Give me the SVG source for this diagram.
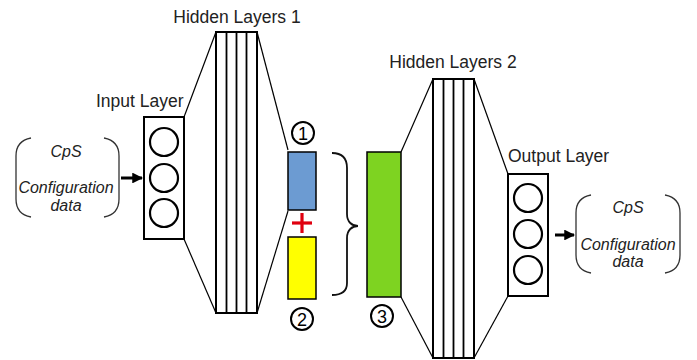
<svg xmlns="http://www.w3.org/2000/svg" width="697" height="360" viewBox="0 0 697 360">
<defs>
<style>
.lbl{font-family:"Liberation Sans",Arial,sans-serif;font-size:17.5px;fill:#222}
.it{font-family:"Liberation Sans",Arial,sans-serif;font-size:16px;font-style:italic;fill:#222;text-anchor:middle}
.num{font-family:"Liberation Sans",Arial,sans-serif;font-size:18px;fill:#000;text-anchor:middle}
.box{fill:#fff;stroke:#000;stroke-width:2}
.neu{fill:#fff;stroke:#000;stroke-width:2.2}
.ln{fill:none;stroke:#000;stroke-width:1.2}
.sl{stroke:#000;stroke-width:1.8}
.par{fill:none;stroke:#333;stroke-width:1.3}
.brc{fill:none;stroke:#111;stroke-width:1.8}
.tag{fill:#fff;stroke:#000;stroke-width:2}
</style>
<marker id="ah" viewBox="0 0 10 10" refX="9" refY="5" markerWidth="3.6" markerHeight="3.6" orient="auto">
<path d="M0,0 L10,5 L0,10 z" fill="#000"/>
</marker>
</defs>
<rect width="697" height="360" fill="#fff"/>

<g id="connectors">
<line class="ln" x1="184" y1="117" x2="216" y2="32"/>
<line class="ln" x1="184" y1="239" x2="216" y2="313"/>
<line class="ln" x1="257" y1="32" x2="288" y2="150"/>
<line class="ln" x1="257" y1="313" x2="288" y2="211"/>
<line class="ln" x1="401" y1="152" x2="433" y2="79"/>
<line class="ln" x1="401" y1="297" x2="433" y2="358"/>
<line class="ln" x1="474" y1="79" x2="508" y2="174"/>
<line class="ln" x1="474" y1="358" x2="508" y2="296"/>
<line x1="121" y1="178" x2="142" y2="178" stroke="#000" stroke-width="3" marker-end="url(#ah)"/>
<line x1="555" y1="235" x2="574" y2="235" stroke="#000" stroke-width="3" marker-end="url(#ah)"/>
</g>

<g id="input-data">
<path class="par" d="M31,138 C20,140 16,146 16,156 L16,199 C16,209 20,215 31,217"/>
<path class="par" d="M104,138 C115,140 119,146 119,156 L119,199 C119,209 115,215 104,217"/>
<text class="it" x="66" y="157">CpS</text>
<text class="it" x="66" y="193">Configuration</text>
<text class="it" x="66" y="211">data</text>
</g>

<g id="input-layer">
<text class="lbl" x="96" y="107">Input Layer</text>
<rect class="box" x="144" y="117" width="40" height="122"/>
<circle class="neu" cx="164" cy="142" r="14"/>
<circle class="neu" cx="164" cy="178" r="14"/>
<circle class="neu" cx="164" cy="213" r="14"/>
</g>

<g id="hidden-layers-1">
<text class="lbl" x="237" y="23" text-anchor="middle">Hidden Layers 1</text>
<rect class="box" x="216" y="32" width="41" height="281"/>
<line class="sl" x1="226.5" y1="32" x2="226.5" y2="313"/>
<line class="sl" x1="236.5" y1="32" x2="236.5" y2="313"/>
<line class="sl" x1="246.5" y1="32" x2="246.5" y2="313"/>
</g>

<g id="vec1">
<circle class="tag" cx="303" cy="133" r="11"/>
<text class="num" x="303" y="139.5">1</text>
<rect x="288" y="152" width="28" height="58" fill="#6c9bd2" stroke="#000" stroke-width="1.5"/>
</g>

<g id="plus">
<line x1="292" y1="223" x2="312" y2="223" stroke="#e0000f" stroke-width="3.2"/>
<line x1="302" y1="213" x2="302" y2="233" stroke="#e0000f" stroke-width="3.2"/>
</g>

<g id="vec2">
<rect x="288" y="237" width="28" height="62" fill="#ffff00" stroke="#000" stroke-width="1.5"/>
<circle class="tag" cx="302" cy="319" r="11"/>
<text class="num" x="302" y="325.5">2</text>
</g>

<g id="brace">
<path class="brc" d="M332,153 C342,153 347,158 347,168 L347,214 C347,222 352,226 358,226 C352,226 347,230 347,238 L347,283 C347,291 342,295 332,295"/>
</g>

<g id="vec3">
<rect x="367" y="152" width="34" height="145" fill="#7ed321" stroke="#000" stroke-width="1.5"/>
<circle class="tag" cx="382" cy="316" r="11"/>
<text class="num" x="382" y="322.5">3</text>
</g>

<g id="hidden-layers-2">
<text class="lbl" x="453" y="68" text-anchor="middle">Hidden Layers 2</text>
<rect class="box" x="433" y="79" width="41" height="279"/>
<line class="sl" x1="443.5" y1="79" x2="443.5" y2="358"/>
<line class="sl" x1="453.5" y1="79" x2="453.5" y2="358"/>
<line class="sl" x1="463.5" y1="79" x2="463.5" y2="358"/>
</g>

<g id="output-layer">
<text class="lbl" x="508" y="162">Output Layer</text>
<rect class="box" x="508" y="174" width="40" height="122"/>
<circle class="neu" cx="528" cy="198" r="14"/>
<circle class="neu" cx="528" cy="234" r="14"/>
<circle class="neu" cx="528" cy="270" r="14"/>
</g>

<g id="output-data">
<path class="par" d="M591,195 C580,197 576,203 576,213 L576,255 C576,265 580,271 591,273"/>
<path class="par" d="M665,195 C676,197 680,203 680,213 L680,255 C680,265 676,271 665,273"/>
<text class="it" x="628" y="213">CpS</text>
<text class="it" x="628" y="250">Configuration</text>
<text class="it" x="628" y="267">data</text>
</g>
</svg>
